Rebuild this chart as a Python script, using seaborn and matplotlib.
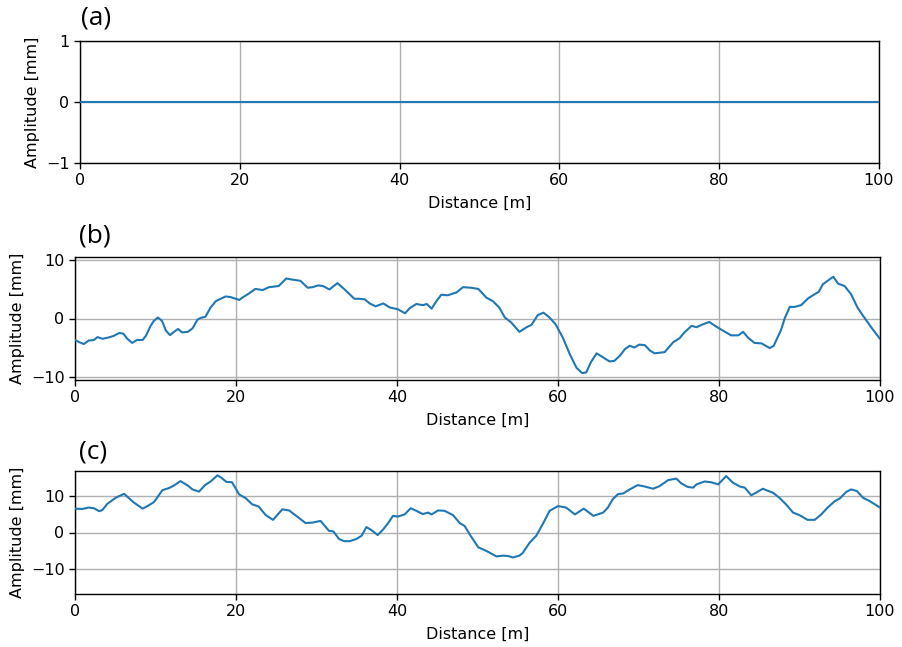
import numpy as np
import pandas as pd
import matplotlib
matplotlib.use("Agg")
import matplotlib.pyplot as plt
import seaborn as sns

# ---------------- data ----------------
dist_a = [0, 100]
amp_a = [0, 0]

dist_b = [0, 0.5, 1.1, 1.7, 2.36, 2.8, 3.4, 4.2, 4.8, 5.5, 6.0, 6.5, 7.1, 7.7, 8.4, 8.8,
          9.4, 9.8, 10.3, 10.8, 11.3, 11.8, 12.3, 12.8, 13.3, 14.0, 14.6, 15.2, 15.6, 16.2,
          16.85, 17.5, 18.1, 18.7, 19.3, 20.4, 20.9, 21.6, 22.4, 23.3, 24.1, 25.3, 26.25,
          27.0, 28.0, 28.9, 29.5, 30.2, 30.8, 31.6, 32.6, 33.5, 34.7, 35.3, 36.0, 36.6,
          37.35, 38.3, 39.1, 40.1, 41.0, 41.6, 42.4, 43.2, 43.7, 44.3, 44.9, 45.5, 46.3,
          47.4, 48.2, 49.2, 50.1, 51.1, 51.9, 52.7, 53.4, 54.2, 55.2, 56.1, 56.7, 57.5,
          58.2, 58.96, 59.7, 60.6, 61.45, 62.3, 63.0, 63.5, 64.1, 64.8, 65.6, 66.4, 67.0,
          67.7, 68.3, 68.9, 69.5, 70.1, 70.8, 71.4, 72.0, 73.25, 74.3, 75.1, 75.7, 76.6,
          77.2, 78.0, 78.8, 79.5, 80.5, 81.5, 82.4, 83.0, 83.6, 84.4, 85.3, 86.3, 86.8,
          87.7, 88.2, 88.8, 89.4, 90.2, 91.1, 91.9, 92.4, 92.9, 93.5, 94.2, 94.8, 95.6,
          96.4, 97.2, 97.9, 98.9, 100.0]
amp_b = [-3.7, -4.06, -4.4, -3.8, -3.7, -3.2, -3.5, -3.26, -3.0, -2.5, -2.6, -3.5, -4.2,
         -3.7, -3.7, -3.0, -1.26, -0.4, 0.17, -0.4, -2.1, -2.86, -2.3, -1.8, -2.4, -2.3,
         -1.7, -0.23, 0.1, 0.3, 1.9, 3.0, 3.4, 3.8, 3.7, 3.2, 3.7, 4.3, 5.1, 4.9, 5.4, 5.6,
         6.9, 6.7, 6.5, 5.3, 5.4, 5.7, 5.6, 5.0, 6.1, 5.0, 3.4, 3.4, 3.3, 2.6, 2.1, 2.6,
         1.9, 1.6, 0.9, 1.8, 2.5, 2.3, 2.5, 1.7, 3.0, 4.1, 4.0, 4.5, 5.4, 5.3, 5.1, 3.6,
         3.0, 1.9, 0.17, -0.7, -2.3, -1.5, -1.1, 0.6, 1.0, 0.17, -1.0, -3.3, -6.1, -8.5,
         -9.4, -9.3, -7.5, -6.0, -6.7, -7.4, -7.3, -6.4, -5.3, -4.7, -5.0, -4.5, -4.6,
         -5.5, -6.0, -5.8, -4.1, -3.4, -2.4, -1.26, -1.5, -1.0, -0.6, -1.26, -2.1, -2.9,
         -2.9, -2.3, -3.3, -4.2, -4.3, -5.1, -4.7, -2.0, 0.17, 2.0, 2.0, 2.3, 3.5, 4.2,
         4.6, 5.9, 6.5, 7.2, 6.0, 5.6, 4.2, 1.9, 0.46, -1.5, -3.5]

dist_c = [0, 0.9, 1.7, 2.36, 3.0, 3.4, 4.0, 5.05, 6.1, 6.5, 7.3, 8.4, 9.0, 9.8, 10.2,
          10.85, 11.7, 12.3, 13.1, 14.0, 14.6, 15.4, 16.15, 16.85, 17.7, 18.2, 18.8, 19.5,
          20.4, 21.2, 22.0, 22.8, 23.7, 24.6, 25.75, 26.6, 27.6, 28.65, 29.5, 30.5, 31.55,
          32.1, 32.8, 33.45, 34.1, 34.95, 35.6, 36.2, 36.8, 37.6, 38.3, 38.9, 39.5, 40.1,
          40.95, 41.7, 42.4, 43.2, 43.85, 44.3, 45.1, 45.9, 46.96, 47.8, 48.4, 49.2, 50.1,
          51.1, 52.35, 53.2, 53.8, 54.4, 55.2, 55.6, 56.5, 57.3, 58.1, 58.96, 60.0, 61.0,
          62.1, 63.2, 64.4, 65.6, 66.2, 66.8, 67.45, 68.1, 68.9, 69.9, 70.8, 71.8, 72.6,
          73.7, 74.7, 75.3, 76.1, 76.8, 77.2, 78.2, 79.0, 79.9, 80.9, 81.7, 82.6, 83.2,
          84.0, 84.6, 85.45, 86.1, 86.7, 87.5, 88.4, 89.2, 90.0, 91.0, 91.9, 92.7, 93.5,
          94.4, 95.0, 95.8, 96.4, 97.1, 97.9, 98.7, 100.0]
amp_c = [6.6, 6.5, 6.9, 6.7, 5.9, 6.2, 7.9, 9.6, 10.7, 9.9, 8.3, 6.6, 7.3, 8.4, 9.6,
         11.7, 12.3, 13.0, 14.2, 13.0, 11.9, 11.3, 13.1, 14.1, 15.8, 15.1, 14.0, 13.9,
         10.5, 9.5, 7.8, 7.2, 4.8, 3.5, 6.4, 6.1, 4.4, 2.6, 2.75, 3.2, 0.46, 0.3, -1.8,
         -2.4, -2.4, -1.8, -0.9, 1.5, 0.7, -0.7, 0.9, 2.6, 4.6, 4.4, 5.0, 6.7, 6.0, 5.1,
         5.5, 5.0, 6.1, 6.0, 4.8, 2.6, 1.8, -1.1, -4.1, -5.1, -6.6, -6.4, -6.5, -6.9,
         -6.4, -5.7, -2.75, -0.9, 2.3, 6.0, 7.3, 6.9, 5.0, 6.6, 4.6, 5.5, 6.9, 9.2, 10.6,
         10.8, 11.9, 13.1, 12.7, 12.1, 12.8, 14.5, 14.9, 13.6, 12.6, 12.4, 13.3, 14.1,
         13.9, 13.3, 15.6, 13.8, 12.7, 12.4, 10.3, 11.0, 12.1, 11.5, 11.0, 9.6, 7.6, 5.5,
         4.8, 3.5, 3.5, 5.0, 6.9, 8.7, 9.4, 11.2, 11.9, 11.5, 9.6, 8.7, 6.9]

panel_labels = ["(a)", "(b)", "(c)"]
x_label = "Distance [m]"
y_label = "Amplitude [mm]"
x_ticks = [0, 20, 40, 60, 80, 100]
y_ticks = [[-1, 0, 1], [-10, 0, 10], [-10, 0, 10]]
y_limits = [(-1, 1), (-10.6, 10.6), (-17, 17)]

# ---------------- style ----------------
sns.set_theme(style="ticks")
plt.rcParams.update({
    "font.family": ["DejaVu Sans"],
    "axes.edgecolor": "black",
    "axes.linewidth": 1.0,
    "xtick.color": "black",
    "ytick.color": "black",
    "axes.labelcolor": "black",
    "text.color": "black",
    "lines.solid_joinstyle": "round",
})

W, H = 903, 647
fig = plt.figure(figsize=(W / 100, H / 100), dpi=100)

# pixel boxes: left, right, top, bottom
boxes = [(80, 879, 41, 163), (75, 880, 257, 380), (75, 880, 471, 594)]
datasets = [(dist_a, amp_a), (dist_b, amp_b), (dist_c, amp_c)]
label_pos = [(81, 18), (79, 236), (79, 452)]

for i, ((l, r, t, b), (xs, ys)) in enumerate(zip(boxes, datasets)):
    ax = fig.add_axes([l / W, 1 - b / H, (r - l) / W, (b - t) / H])
    df = pd.DataFrame({"dist": xs, "amp": ys})
    sns.lineplot(data=df, x="dist", y="amp", ax=ax, color="#1f77b4",
                 linewidth=1.5, zorder=3)
    ax.set_xlim(0, 100)
    ax.set_ylim(*y_limits[i])
    ax.set_xticks(x_ticks)
    ax.set_yticks(y_ticks[i])
    ax.set_yticklabels(["\u2212" + str(abs(v)) if v < 0 else str(v) for v in y_ticks[i]])
    ax.grid(True, color="#b0b0b0", linewidth=1.0)
    ax.set_axisbelow(True)
    ax.tick_params(labelsize=11.5, length=4, width=1, direction="out")
    ax.set_xlabel(x_label, fontsize=11.5, labelpad=5)
    ax.set_ylabel(y_label, fontsize=11.5, labelpad=4)
    for s in ax.spines.values():
        s.set_visible(True)
        s.set_color("black")
    px, py = label_pos[i]
    fig.text(px / W, 1 - py / H, panel_labels[i], fontsize=19,
             family=["Open Sans", "DejaVu Sans"], va="center", ha="left")

fig.savefig("out.png", dpi=100)
